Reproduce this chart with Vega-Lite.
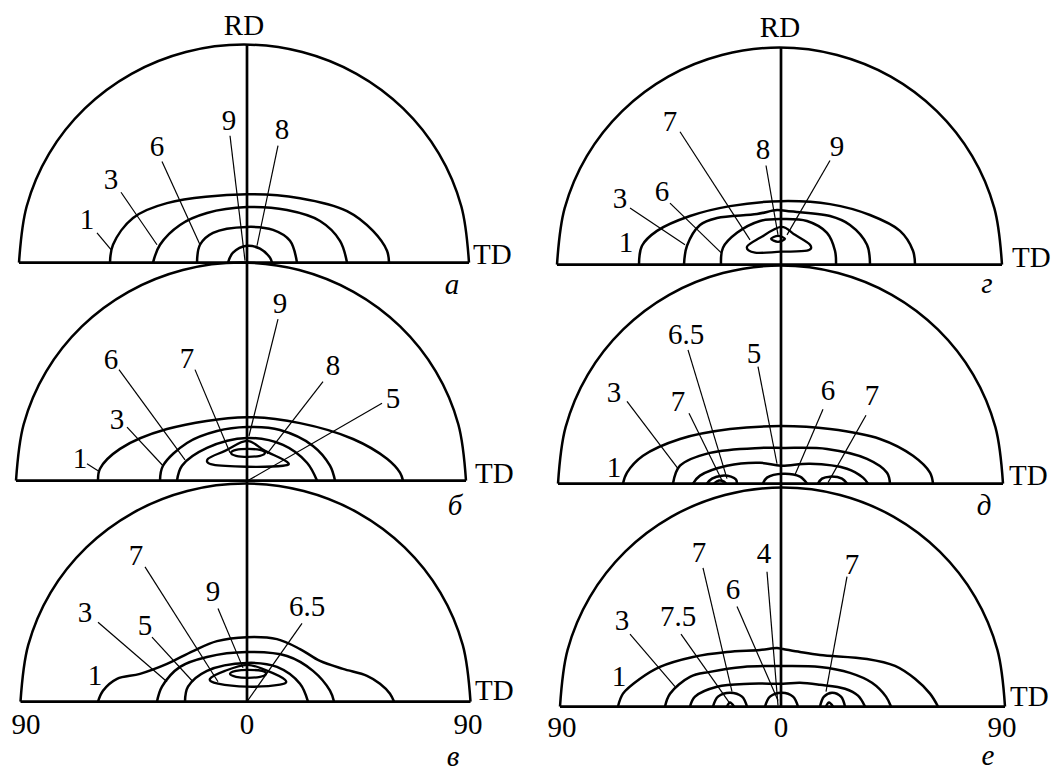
{
"$schema":"https://vega.github.io/schema/vega-lite/v6.json",
"width":1059,"height":772,
"autosize":{"type":"fit","contains":"padding"},
"padding":0,
"background":"white",
"config":{"view":{"stroke":null}},
"datasets":{
"curves":[
{"g":"ca","x":19,"y":265},{"g":"ca","x":26.7,"y":208.1},{"g":"ca","x":49.1,"y":155},{"g":"ca","x":84.9,"y":109.4},{"g":"ca","x":131.5,"y":74.5},{"g":"ca","x":185.8,"y":52.5},{"g":"ca","x":244,"y":45},{"g":"ca","x":302.2,"y":52.5},{"g":"ca","x":356.5,"y":74.5},{"g":"ca","x":403.1,"y":109.4},{"g":"ca","x":438.9,"y":155},{"g":"ca","x":461.3,"y":208.1},{"g":"ca","x":469,"y":265},
{"g":"cb","x":16,"y":485},{"g":"cb","x":23.7,"y":428.1},{"g":"cb","x":46.1,"y":375},{"g":"cb","x":81.9,"y":329.4},{"g":"cb","x":128.5,"y":294.5},{"g":"cb","x":182.8,"y":272.5},{"g":"cb","x":241,"y":265},{"g":"cb","x":299.2,"y":272.5},{"g":"cb","x":353.5,"y":294.5},{"g":"cb","x":400.1,"y":329.4},{"g":"cb","x":435.9,"y":375},{"g":"cb","x":458.3,"y":428.1},{"g":"cb","x":466,"y":485},
{"g":"cc","x":20.5,"y":708},{"g":"cc","x":28.2,"y":651.1},{"g":"cc","x":50.6,"y":598},{"g":"cc","x":86.4,"y":552.4},{"g":"cc","x":133,"y":517.5},{"g":"cc","x":187.3,"y":495.5},{"g":"cc","x":245.5,"y":488},{"g":"cc","x":303.7,"y":495.5},{"g":"cc","x":358,"y":517.5},{"g":"cc","x":404.6,"y":552.4},{"g":"cc","x":440.4,"y":598},{"g":"cc","x":462.8,"y":651.1},{"g":"cc","x":470.5,"y":708},
{"g":"cd","x":557,"y":267},{"g":"cd","x":564.6,"y":210.3},{"g":"cd","x":586.8,"y":157.5},{"g":"cd","x":622.2,"y":112.1},{"g":"cd","x":668.2,"y":77.3},{"g":"cd","x":721.9,"y":55.5},{"g":"cd","x":779.5,"y":48},{"g":"cd","x":837.1,"y":55.5},{"g":"cd","x":890.8,"y":77.3},{"g":"cd","x":936.8,"y":112.1},{"g":"cd","x":972.2,"y":157.5},{"g":"cd","x":994.4,"y":210.3},{"g":"cd","x":1002,"y":267},
{"g":"ce","x":558,"y":488},{"g":"ce","x":565.6,"y":431.1},{"g":"ce","x":587.8,"y":378},{"g":"ce","x":623.2,"y":332.4},{"g":"ce","x":669.2,"y":297.5},{"g":"ce","x":722.9,"y":275.5},{"g":"ce","x":780.5,"y":268},{"g":"ce","x":838.1,"y":275.5},{"g":"ce","x":891.8,"y":297.5},{"g":"ce","x":937.8,"y":332.4},{"g":"ce","x":973.2,"y":378},{"g":"ce","x":995.4,"y":431.1},{"g":"ce","x":1003,"y":488},
{"g":"cf","x":560,"y":713},{"g":"cf","x":567.6,"y":655.8},{"g":"cf","x":589.8,"y":602.5},{"g":"cf","x":625.2,"y":556.7},{"g":"cf","x":671.2,"y":521.6},{"g":"cf","x":724.9,"y":499.5},{"g":"cf","x":782.5,"y":492},{"g":"cf","x":840.1,"y":499.5},{"g":"cf","x":893.8,"y":521.6},{"g":"cf","x":939.8,"y":556.7},{"g":"cf","x":975.2,"y":602.5},{"g":"cf","x":997.4,"y":655.8},{"g":"cf","x":1005,"y":713},
{"g":"a1","x":110,"y":265},{"g":"a1","x":113,"y":247},{"g":"a1","x":133,"y":220},{"g":"a1","x":167,"y":205},{"g":"a1","x":247,"y":196},{"g":"a1","x":300,"y":200},{"g":"a1","x":347,"y":213},{"g":"a1","x":373,"y":233},{"g":"a1","x":387,"y":253},{"g":"a1","x":389,"y":265},
{"g":"a3","x":153,"y":265},{"g":"a3","x":160,"y":247},{"g":"a3","x":180,"y":227},{"g":"a3","x":207,"y":215},{"g":"a3","x":247,"y":209},{"g":"a3","x":287,"y":212},{"g":"a3","x":320,"y":223},{"g":"a3","x":340,"y":243},{"g":"a3","x":347,"y":265},
{"g":"a6","x":197,"y":265},{"g":"a6","x":200,"y":247},{"g":"a6","x":213,"y":235},{"g":"a6","x":247,"y":229},{"g":"a6","x":273,"y":232},{"g":"a6","x":290,"y":243},{"g":"a6","x":297,"y":265},
{"g":"a8","x":228,"y":265},{"g":"a8","x":233,"y":255},{"g":"a8","x":247,"y":248},{"g":"a8","x":260,"y":251},{"g":"a8","x":270,"y":260},{"g":"a8","x":272,"y":265},
{"g":"b1","x":98,"y":485},{"g":"b1","x":100,"y":473},{"g":"b1","x":120,"y":453},{"g":"b1","x":167,"y":433},{"g":"b1","x":247,"y":421},{"g":"b1","x":300,"y":427},{"g":"b1","x":353,"y":443},{"g":"b1","x":387,"y":463},{"g":"b1","x":400,"y":477},{"g":"b1","x":403,"y":485},
{"g":"b3","x":160,"y":485},{"g":"b3","x":163,"y":470},{"g":"b3","x":187,"y":447},{"g":"b3","x":217,"y":435},{"g":"b3","x":247,"y":431},{"g":"b3","x":280,"y":434},{"g":"b3","x":313,"y":450},{"g":"b3","x":330,"y":470},{"g":"b3","x":335,"y":485},
{"g":"b6","x":177,"y":485},{"g":"b6","x":182,"y":470},{"g":"b6","x":207,"y":452},{"g":"b6","x":247,"y":442},{"g":"b6","x":283,"y":449},{"g":"b6","x":307,"y":467},{"g":"b6","x":317,"y":485},
{"g":"c1","x":98,"y":708},{"g":"c1","x":103,"y":697},{"g":"c1","x":117,"y":685},{"g":"c1","x":140,"y":680},{"g":"c1","x":167,"y":670},{"g":"c1","x":193,"y":657},{"g":"c1","x":217,"y":647},{"g":"c1","x":247,"y":643},{"g":"c1","x":277,"y":645},{"g":"c1","x":300,"y":655},{"g":"c1","x":320,"y":667},{"g":"c1","x":343,"y":675},{"g":"c1","x":367,"y":682},{"g":"c1","x":380,"y":690},{"g":"c1","x":390,"y":700},{"g":"c1","x":394,"y":708},
{"g":"c3","x":157,"y":708},{"g":"c3","x":162,"y":693},{"g":"c3","x":180,"y":673},{"g":"c3","x":207,"y":663},{"g":"c3","x":247,"y":658},{"g":"c3","x":287,"y":662},{"g":"c3","x":313,"y":677},{"g":"c3","x":330,"y":697},{"g":"c3","x":334,"y":708},
{"g":"c5","x":185,"y":708},{"g":"c5","x":188,"y":693},{"g":"c5","x":207,"y":677},{"g":"c5","x":247,"y":669},{"g":"c5","x":277,"y":673},{"g":"c5","x":300,"y":690},{"g":"c5","x":308,"y":708},
{"g":"d1","x":639,"y":267},{"g":"d1","x":642,"y":248},{"g":"d1","x":657,"y":233},{"g":"d1","x":690,"y":218},{"g":"d1","x":730,"y":208},{"g":"d1","x":781,"y":203},{"g":"d1","x":830,"y":206},{"g":"d1","x":870,"y":217},{"g":"d1","x":900,"y":233},{"g":"d1","x":913,"y":253},{"g":"d1","x":915,"y":267},
{"g":"d3","x":684,"y":267},{"g":"d3","x":687,"y":248},{"g":"d3","x":700,"y":227},{"g":"d3","x":717,"y":220},{"g":"d3","x":757,"y":216},{"g":"d3","x":777,"y":212},{"g":"d3","x":787,"y":213},{"g":"d3","x":830,"y":218},{"g":"d3","x":850,"y":227},{"g":"d3","x":867,"y":247},{"g":"d3","x":870,"y":267},
{"g":"d6","x":721,"y":267},{"g":"d6","x":723,"y":250},{"g":"d6","x":737,"y":235},{"g":"d6","x":760,"y":223},{"g":"d6","x":781,"y":221},{"g":"d6","x":807,"y":223},{"g":"d6","x":827,"y":235},{"g":"d6","x":835,"y":253},{"g":"d6","x":836,"y":267},
{"g":"e1","x":623,"y":488},{"g":"e1","x":627,"y":477},{"g":"e1","x":643,"y":460},{"g":"e1","x":680,"y":443},{"g":"e1","x":730,"y":433},{"g":"e1","x":781,"y":430},{"g":"e1","x":830,"y":433},{"g":"e1","x":880,"y":443},{"g":"e1","x":913,"y":460},{"g":"e1","x":930,"y":477},{"g":"e1","x":933,"y":488},
{"g":"e3","x":673,"y":488},{"g":"e3","x":680,"y":470},{"g":"e3","x":710,"y":457},{"g":"e3","x":760,"y":452},{"g":"e3","x":783,"y":452},{"g":"e3","x":827,"y":453},{"g":"e3","x":867,"y":463},{"g":"e3","x":887,"y":477},{"g":"e3","x":890,"y":488},
{"g":"e5","x":693,"y":488},{"g":"e5","x":700,"y":480},{"g":"e5","x":727,"y":470},{"g":"e5","x":760,"y":467},{"g":"e5","x":781,"y":470},{"g":"e5","x":810,"y":468},{"g":"e5","x":847,"y":473},{"g":"e5","x":863,"y":482},{"g":"e5","x":868,"y":488},
{"g":"e65","x":707,"y":488},{"g":"e65","x":712,"y":483},{"g":"e65","x":722,"y":480},{"g":"e65","x":731,"y":481},{"g":"e65","x":736,"y":484},{"g":"e65","x":737,"y":488},
{"g":"e7a","x":714,"y":488},{"g":"e7a","x":719,"y":485},{"g":"e7a","x":724,"y":486},{"g":"e7a","x":726,"y":488},
{"g":"e6","x":763,"y":488},{"g":"e6","x":767,"y":482},{"g":"e6","x":783,"y":478},{"g":"e6","x":800,"y":481},{"g":"e6","x":807,"y":488},
{"g":"e7b","x":818,"y":488},{"g":"e7b","x":822,"y":483},{"g":"e7b","x":830,"y":481},{"g":"e7b","x":842,"y":483},{"g":"e7b","x":847,"y":488},
{"g":"f1","x":618,"y":713},{"g":"f1","x":623,"y":700},{"g":"f1","x":640,"y":685},{"g":"f1","x":660,"y":673},{"g":"f1","x":693,"y":663},{"g":"f1","x":727,"y":658},{"g":"f1","x":760,"y":656},{"g":"f1","x":777,"y":654},{"g":"f1","x":783,"y":655},{"g":"f1","x":800,"y":658},{"g":"f1","x":820,"y":661},{"g":"f1","x":867,"y":665},{"g":"f1","x":895,"y":672},{"g":"f1","x":915,"y":685},{"g":"f1","x":930,"y":700},{"g":"f1","x":938,"y":713},
{"g":"f3","x":665,"y":713},{"g":"f3","x":670,"y":700},{"g":"f3","x":690,"y":683},{"g":"f3","x":710,"y":678},{"g":"f3","x":743,"y":673},{"g":"f3","x":783,"y":672},{"g":"f3","x":820,"y":673},{"g":"f3","x":850,"y":679},{"g":"f3","x":872,"y":689},{"g":"f3","x":886,"y":703},{"g":"f3","x":891,"y":713},
{"g":"f6","x":690,"y":713},{"g":"f6","x":695,"y":703},{"g":"f6","x":717,"y":693},{"g":"f6","x":750,"y":690},{"g":"f6","x":783,"y":690},{"g":"f6","x":800,"y":689},{"g":"f6","x":820,"y":691},{"g":"f6","x":845,"y":695},{"g":"f6","x":858,"y":702},{"g":"f6","x":865,"y":713},
{"g":"fL","x":713,"y":713},{"g":"fL","x":718,"y":703},{"g":"fL","x":730,"y":699},{"g":"fL","x":742,"y":703},{"g":"fL","x":747,"y":713},
{"g":"fLi","x":727,"y":713},{"g":"fLi","x":730,"y":709},{"g":"fLi","x":734,"y":713},
{"g":"fC","x":765,"y":713},{"g":"fC","x":770,"y":703},{"g":"fC","x":782,"y":699},{"g":"fC","x":793,"y":703},{"g":"fC","x":798,"y":713},
{"g":"fR","x":820,"y":713},{"g":"fR","x":824,"y":703},{"g":"fR","x":832,"y":699},{"g":"fR","x":841,"y":703},{"g":"fR","x":845,"y":713},
{"g":"fRi","x":826,"y":713},{"g":"fRi","x":829,"y":709},{"g":"fRi","x":833,"y":713}
],
"closed":[
{"g":"b7","x":208,"y":463},{"g":"b7","x":225,"y":455},{"g":"b7","x":247,"y":445},{"g":"b7","x":265,"y":455},{"g":"b7","x":287,"y":466},{"g":"b7","x":283,"y":470},{"g":"b7","x":247,"y":471},{"g":"b7","x":213,"y":469},
{"g":"b8","x":231,"y":457},{"g":"b8","x":236,"y":454},{"g":"b8","x":248,"y":453},{"g":"b8","x":260,"y":454},{"g":"b8","x":265,"y":457},{"g":"b8","x":260,"y":460},{"g":"b8","x":248,"y":461},{"g":"b8","x":236,"y":460},
{"g":"c7","x":210,"y":685},{"g":"c7","x":225,"y":677},{"g":"c7","x":247,"y":671},{"g":"c7","x":265,"y":676},{"g":"c7","x":285,"y":686},{"g":"c7","x":280,"y":691},{"g":"c7","x":247,"y":693},{"g":"c7","x":218,"y":690},
{"g":"c9","x":230,"y":680},{"g":"c9","x":236,"y":677},{"g":"c9","x":248,"y":676},{"g":"c9","x":262,"y":677},{"g":"c9","x":266,"y":680},{"g":"c9","x":260,"y":683},{"g":"c9","x":248,"y":684},{"g":"c9","x":236,"y":683},
{"g":"d7","x":747,"y":249},{"g":"d7","x":760,"y":240},{"g":"d7","x":781,"y":229},{"g":"d7","x":795,"y":237},{"g":"d7","x":810,"y":247},{"g":"d7","x":807,"y":253},{"g":"d7","x":781,"y":254},{"g":"d7","x":755,"y":255},
{"g":"d9","x":771,"y":241},{"g":"d9","x":778,"y":238},{"g":"d9","x":785,"y":241},{"g":"d9","x":778,"y":244}
],
"frame":[
{"g":"va","x":247,"y":45},{"g":"va","x":247,"y":708},
{"g":"vd","x":781,"y":48},{"g":"vd","x":781,"y":713},
{"g":"la","x":19,"y":265},{"g":"la","x":469,"y":265},
{"g":"lb","x":16,"y":485},{"g":"lb","x":466,"y":485},
{"g":"lc","x":20.5,"y":708},{"g":"lc","x":470.5,"y":708},
{"g":"ld","x":557,"y":267},{"g":"ld","x":1002,"y":267},
{"g":"le","x":558,"y":488},{"g":"le","x":1003,"y":488},
{"g":"lf","x":560,"y":713},{"g":"lf","x":1005,"y":713}
],
"leaders":[
{"g":"a1","x":97,"y":235},{"g":"a1","x":111,"y":252},
{"g":"a3","x":121,"y":194},{"g":"a3","x":157,"y":247},
{"g":"a6","x":162,"y":163},{"g":"a6","x":200,"y":247},
{"g":"a9","x":230,"y":137},{"g":"a9","x":245,"y":263},
{"g":"a8","x":278,"y":147},{"g":"a8","x":257,"y":248},
{"g":"b1","x":87,"y":468},{"g":"b1","x":98,"y":475},
{"g":"b3","x":127,"y":431},{"g":"b3","x":163,"y":470},
{"g":"b6","x":119,"y":373},{"g":"b6","x":185,"y":464},
{"g":"b7","x":195,"y":373},{"g":"b7","x":230,"y":457},
{"g":"b9","x":278,"y":322},{"g":"b9","x":249,"y":440},
{"g":"b8","x":323,"y":385},{"g":"b8","x":267,"y":458},
{"g":"b5","x":382,"y":407},{"g":"b5","x":248,"y":485},
{"g":"c3","x":98,"y":628},{"g":"c3","x":167,"y":688},
{"g":"c5","x":152,"y":643},{"g":"c5","x":193,"y":688},
{"g":"c7","x":145,"y":572},{"g":"c7","x":218,"y":688},
{"g":"c9","x":218,"y":614},{"g":"c9","x":243,"y":674},
{"g":"c65","x":302,"y":629},{"g":"c65","x":247,"y":708},
{"g":"d7","x":680,"y":133},{"g":"d7","x":750,"y":242},
{"g":"d8","x":766,"y":167},{"g":"d8","x":778,"y":237},
{"g":"d9","x":830,"y":162},{"g":"d9","x":787,"y":237},
{"g":"d3","x":630,"y":210},{"g":"d3","x":685,"y":247},
{"g":"d6","x":670,"y":205},{"g":"d6","x":721,"y":255},
{"g":"e65","x":688,"y":353},{"g":"e65","x":727,"y":483},
{"g":"e5","x":758,"y":370},{"g":"e5","x":777,"y":468},
{"g":"e3","x":627,"y":405},{"g":"e3","x":678,"y":473},
{"g":"e7a","x":689,"y":417},{"g":"e7a","x":723,"y":487},
{"g":"e6","x":823,"y":413},{"g":"e6","x":795,"y":479},
{"g":"e7b","x":866,"y":419},{"g":"e7b","x":828,"y":487},
{"g":"f7a","x":703,"y":573},{"g":"f7a","x":732,"y":698},
{"g":"f4","x":767,"y":577},{"g":"f4","x":778,"y":712},
{"g":"f7b","x":847,"y":582},{"g":"f7b","x":826,"y":698},
{"g":"f6","x":737,"y":612},{"g":"f6","x":778,"y":707},
{"g":"f75","x":681,"y":640},{"g":"f75","x":730,"y":710},
{"g":"f3","x":630,"y":640},{"g":"f3","x":675,"y":693}
],
"labels":[
{"t":"RD","x":244,"y":26},{"t":"9","x":229,"y":122},{"t":"8","x":282,"y":131},{"t":"6","x":157,"y":148},{"t":"3","x":111,"y":182},{"t":"1","x":87,"y":222},
{"t":"9","x":280,"y":307},{"t":"6","x":111,"y":363},{"t":"7","x":187,"y":362},{"t":"8","x":333,"y":369},{"t":"5","x":393,"y":403},{"t":"3","x":117,"y":424},{"t":"1","x":80,"y":463},
{"t":"7","x":136,"y":561},{"t":"9","x":213,"y":597},{"t":"6.5","x":307,"y":613},{"t":"3","x":85,"y":619},{"t":"5","x":145,"y":632},{"t":"1","x":95,"y":682},{"t":"90","x":26,"y":732},{"t":"0","x":247,"y":732},{"t":"90","x":468,"y":732},
{"t":"RD","x":780,"y":28},{"t":"7","x":670,"y":123},{"t":"8","x":763,"y":151},{"t":"9","x":837,"y":148},{"t":"3","x":620,"y":201},{"t":"6","x":662,"y":194},{"t":"1","x":626,"y":245},
{"t":"6.5","x":686,"y":338},{"t":"5","x":754,"y":357},{"t":"3","x":614,"y":397},{"t":"7","x":678,"y":406},{"t":"6","x":828,"y":395},{"t":"7","x":872,"y":400},{"t":"1","x":614,"y":472},
{"t":"7","x":699,"y":558},{"t":"4","x":764,"y":559},{"t":"7","x":852,"y":570},{"t":"6","x":733,"y":595},{"t":"7.5","x":678,"y":623},{"t":"3","x":622,"y":627},{"t":"1","x":619,"y":683},{"t":"90","x":562,"y":735},{"t":"0","x":781,"y":735},{"t":"90","x":1002,"y":735}
],
"td":[
{"t":"TD","x":473,"y":257},{"t":"TD","x":475,"y":478},{"t":"TD","x":475,"y":697},{"t":"TD","x":1012,"y":260},{"t":"TD","x":1009,"y":480},{"t":"TD","x":1010,"y":703}
],
"panels":[
{"t":"а","x":452,"y":288},{"t":"б","x":455,"y":511},{"t":"в","x":453,"y":764},{"t":"г","x":987,"y":287},{"t":"д","x":984,"y":511},{"t":"е","x":988,"y":763}
]
},
"encoding":{
"x":{"field":"x","type":"quantitative","scale":{"domain":[0,1059],"nice":false,"zero":false},"axis":null},
"y":{"field":"y","type":"quantitative","scale":{"domain":[0,772],"nice":false,"zero":false,"reverse":true},"axis":null}
},
"layer":[
{"data":{"name":"curves"},"mark":{"type":"line","interpolate":"catmull-rom","stroke":"black","strokeWidth":2.5},"encoding":{"detail":{"field":"g"},"order":{"value":null}}},
{"data":{"name":"closed"},"mark":{"type":"line","interpolate":"cardinal-closed","stroke":"black","strokeWidth":2.3},"encoding":{"detail":{"field":"g"},"order":{"value":null}}},
{"data":{"name":"frame"},"mark":{"type":"line","interpolate":"linear","stroke":"black","strokeWidth":2.7},"encoding":{"detail":{"field":"g"},"order":{"value":null}}},
{"data":{"name":"leaders"},"mark":{"type":"line","interpolate":"linear","stroke":"black","strokeWidth":1.2},"encoding":{"detail":{"field":"g"},"order":{"value":null}}},
{"data":{"name":"labels"},"mark":{"type":"text","font":"Liberation Serif","fontSize":29,"align":"center","baseline":"middle","color":"black"},"encoding":{"text":{"field":"t"}}},
{"data":{"name":"td"},"mark":{"type":"text","font":"Liberation Serif","fontSize":29,"align":"left","baseline":"middle","color":"black"},"encoding":{"text":{"field":"t"}}},
{"data":{"name":"panels"},"mark":{"type":"text","font":"Liberation Serif","fontSize":29,"fontStyle":"italic","align":"center","baseline":"middle","color":"black"},"encoding":{"text":{"field":"t"}}}
]
}
